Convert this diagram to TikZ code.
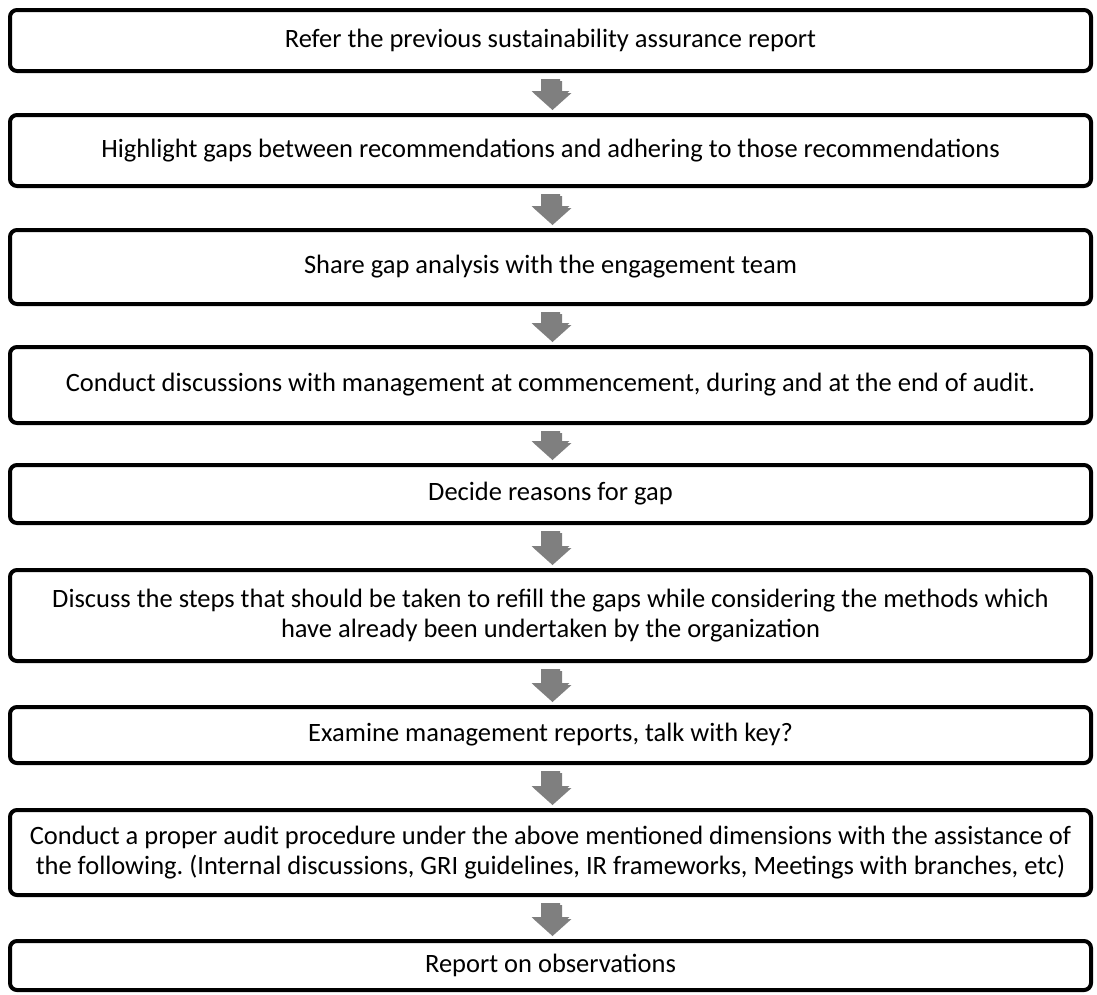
\documentclass[tikz,border=0pt]{standalone}
\usepackage{fontspec}
\setmainfont{Carlito}
\frenchspacing
\usetikzlibrary{calc}
\definecolor{arrowgrey}{RGB}{127,127,127}
\definecolor{arrowshade}{RGB}{205,205,205}
\tikzset{
  stepbox/.style={draw=black, line width=4pt, rounded corners=7pt,
    minimum width=1081pt, inner sep=0pt, align=center,
    font=\fontsize{26.5}{30}\selectfont},
}
% grey block arrow running from the bottom of one box to the top of the next
\newcommand\flowdown[2]{%
  \path let \p1=(#1.south), \p2=(#2.north) in
    [fill=arrowshade] (\x1-8,\y1-8) -- (\x1+11.5,\y1-8) -- (\x1+11.5,\y2+20)
      -- (\x1+21,\y2+20) -- (\x1+2,\y2+3) -- (\x1-17,\y2+20) -- (\x1-8,\y2+20) -- cycle
    [fill=arrowgrey] (\x1-9.5,\y1-6) -- (\x1+9.5,\y1-6) -- (\x1+9.5,\y2+22)
      -- (\x1+19,\y2+22) -- (\x1,\y2+5) -- (\x1-19,\y2+22) -- (\x1-9.5,\y2+22) -- cycle;}
\begin{document}
\begin{tikzpicture}[x=1pt,y=1pt]
\useasboundingbox (0,0) rectangle (1097,-994);
\node[stepbox, minimum height=61pt] (s1) at (550.5,-40.5)
  {Refer the previous sustainability assurance report};
\node[stepbox, minimum height=71pt] (s2) at (550.5,-150.5)
  {Highlight gaps between recommendations and adhering to those recommendations};
\node[stepbox, minimum height=74pt] (s3) at (550.5,-267)
  {Share gap analysis with the engagement team};
\node[stepbox, minimum height=76pt] (s4) at (550.5,-385)
  {Conduct discussions with management at commencement, during and at the end of audit.};
\node[stepbox, minimum height=58pt] (s5) at (550.5,-494)
  {Decide reasons for gap};
\node[stepbox, minimum height=91pt] (s6) at (550.5,-615.5)
  {Discuss the steps that should be taken to refill the gaps while considering the methods which\\
   have already been undertaken by the organization};
\node[stepbox, minimum height=56pt] (s7) at (550.5,-735)
  {Examine management reports, talk with key?};
\node[stepbox, minimum height=85pt] (s8) at (550.5,-852.5)
  {Conduct a proper audit procedure under the above mentioned dimensions with the assistance of\\
   the following. (Internal discussions, GRI guidelines, IR frameworks, Meetings with branches, etc)};
\node[stepbox, minimum height=49pt] (s9) at (550.5,-965.5)
  {Report on observations};
\flowdown{s1}{s2}
\flowdown{s2}{s3}
\flowdown{s3}{s4}
\flowdown{s4}{s5}
\flowdown{s5}{s6}
\flowdown{s6}{s7}
\flowdown{s7}{s8}
\flowdown{s8}{s9}
\end{tikzpicture}
\end{document}
